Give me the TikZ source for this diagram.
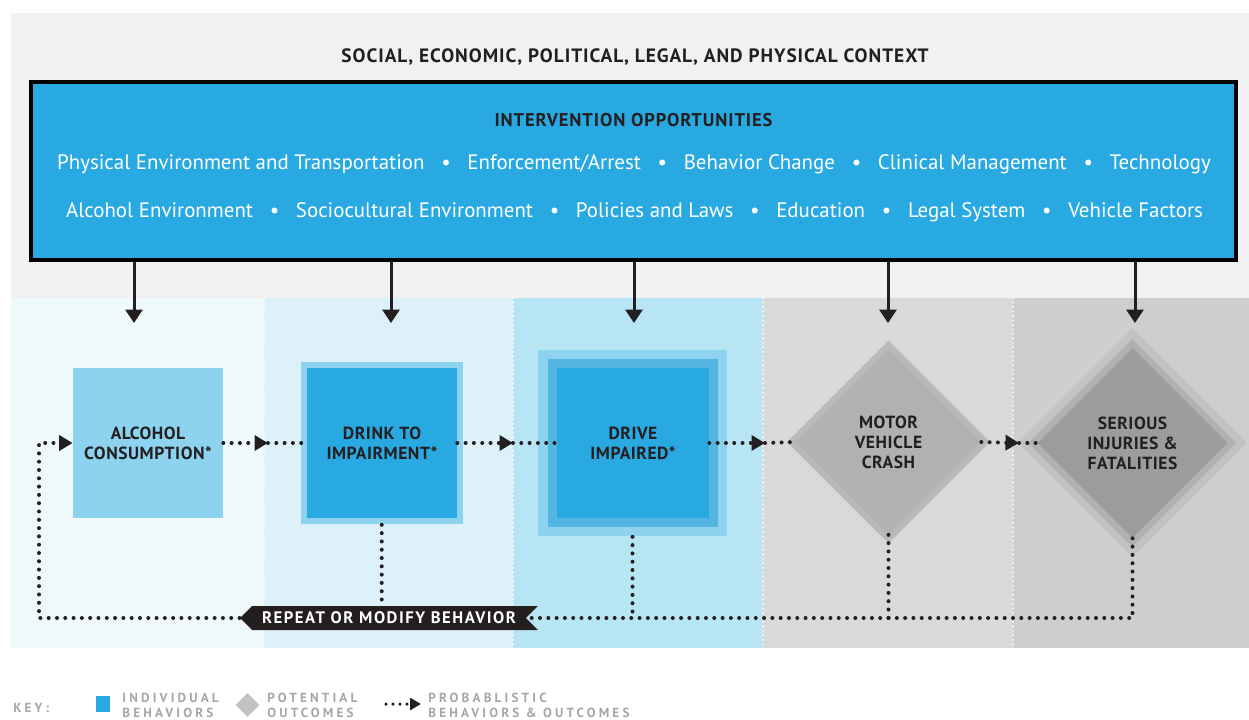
\documentclass[tikz,border=0pt]{standalone}
\usepackage{fontspec}
\setmainfont{PT Sans}
\newfontfamily\capsfont[LetterSpace=3]{PT Sans}
\newfontfamily\headfont[LetterSpace=5]{PT Sans}
\newfontfamily\bannerfont[LetterSpace=9]{PT Sans}
\newfontfamily\keyfont[LetterSpace=24]{PT Sans}
\usetikzlibrary{shapes.geometric, shapes.symbols, arrows.meta}

\definecolor{ctxgray}{HTML}{F1F1F1}
\definecolor{oppblue}{HTML}{29A9E1}
\definecolor{colA}{HTML}{EFF9FC}
\definecolor{colB}{HTML}{DDF1F9}
\definecolor{colC}{HTML}{B8E5F3}
\definecolor{colD}{HTML}{D9D9D9}
\definecolor{colE}{HTML}{CECECE}
\definecolor{lightblue}{HTML}{8DD2EF}
\definecolor{midblue}{HTML}{55B5E1}
\definecolor{crashrim}{HTML}{B9B9B9}
\definecolor{crashgray}{HTML}{B1B1B1}
\definecolor{injrimA}{HTML}{C2C2C2}
\definecolor{injrimB}{HTML}{B1B1B1}
\definecolor{injgray}{HTML}{9C9C9C}
\definecolor{inkdark}{HTML}{231F20}
\definecolor{keygray}{HTML}{A6A6A6}

\newcommand{\oppsep}{\hspace{0.8em}\textbullet\hspace{0.8em}}

\tikzset{
  titletext/.style={font=\headfont\bfseries\fontsize{11}{12}\selectfont, text=inkdark},
  oppbox/.style={draw=black, line width=0.07cm, fill=oppblue, minimum width=24.1cm, minimum height=3.56cm},
  opptext/.style={font=\fontsize{11.9}{13}\selectfont, text=white},
  ctxarrow/.style={line width=0.06cm, draw=inkdark, -{Triangle[length=0.27cm, width=0.34cm]}},
  sepline/.style={draw=white, line width=0.04cm, dash pattern=on 0pt off 0.09cm, line cap=round},
  behav/.style={rectangle, fill=oppblue, align=center, inner sep=0pt, text=inkdark,
    font=\capsfont\bfseries\fontsize{10}{11.3}\selectfont},
  rim/.style={rectangle, inner sep=0pt},
  outcome/.style={diamond, aspect=1, inner sep=0pt, align=center, text=inkdark,
    font=\capsfont\bfseries\fontsize{10}{11.3}\selectfont},
  rimdia/.style={diamond, aspect=1, inner sep=0pt},
  dotline/.style={draw=inkdark, line width=0.08cm, dash pattern=on 0pt off 0.166cm, line cap=round},
  dotarrow/.style={dotline, -{Triangle[length=0.27cm, width=0.3cm]}},
  banner/.style={signal, signal to=west, signal from=east, fill=inkdark, text=white,
    minimum height=0.48cm, minimum width=5.96cm, inner ysep=0pt,
    font=\bannerfont\bfseries\fontsize{9.5}{11}\selectfont},
  keytext/.style={font=\keyfont\bfseries\fontsize{7.5}{8.6}\selectfont, text=keygray, align=left, inner sep=0pt}
}

\begin{document}
\begin{tikzpicture}[x=0.02cm, y=-0.02cm]
  \useasboundingbox (0,0) rectangle (1249,720);

  % Context panel
  \fill[ctxgray] (11,13) rectangle (1249,298);
  \node[titletext] (ctxtitle) at (635,57) {SOCIAL, ECONOMIC, POLITICAL, LEGAL, AND PHYSICAL CONTEXT};

  % Columns
  \fill[colA] (11,298) rectangle (264,648);
  \fill[colB] (264,298) rectangle (513,648);
  \fill[colC] (513,298) rectangle (763,648);
  \fill[colD] (763,298) rectangle (1013,648);
  \fill[colE] (1013,298) rectangle (1249,648);
  \draw[sepline] (264,298) -- (264,648);
  \draw[sepline] (513,298) -- (513,648);
  \draw[sepline] (763,298) -- (763,648);
  \draw[sepline] (1013,298) -- (1013,648);

  % Intervention opportunities
  \node[oppbox] (opp) at (633.5,171) {};
  \node[titletext, font=\headfont\bfseries\fontsize{10.5}{12}\selectfont] (opphead) at (633.5,120) {INTERVENTION OPPORTUNITIES};
  \node[opptext] (opprow1) at (634,164) {Physical Environment and Transportation\oppsep Enforcement/Arrest\oppsep Behavior Change\oppsep Clinical Management\oppsep Technology};
  \node[opptext] (opprow2) at (634.5,212) {Alcohol Environment\oppsep Sociocultural Environment\oppsep Policies and Laws\oppsep Education\oppsep Legal System\oppsep Vehicle Factors};

  % Arrows into the chain
  \coordinate (d1) at (134,323);
  \coordinate (d2) at (391,323);
  \coordinate (d3) at (634,323);
  \coordinate (d4) at (888,323);
  \coordinate (d5) at (1135,323);
  \draw[ctxarrow] (opp.south -| d1) -- (d1);
  \draw[ctxarrow] (opp.south -| d2) -- (d2);
  \draw[ctxarrow] (opp.south -| d3) -- (d3);
  \draw[ctxarrow] (opp.south -| d4) -- (d4);
  \draw[ctxarrow] (opp.south -| d5) -- (d5);

  % Individual behaviors
  \node[behav, fill=lightblue, minimum width=3cm, minimum height=3.02cm] (alc) at (148,443) {ALCOHOL\\CONSUMPTION*};
  \node[rim, fill=lightblue, minimum width=3.25cm, minimum height=3.26cm] (drinkrim) at (381.75,443) {};
  \node[behav, minimum width=3cm, minimum height=3cm] (drink) at (382,443) {DRINK TO\\IMPAIRMENT*};
  \node[rim, fill=lightblue, minimum width=3.78cm, minimum height=3.74cm] (driverim) at (632.5,443) {};
  \node[rim, fill=midblue, minimum width=3.4cm, minimum height=3.38cm] (drivemid) at (633,443) {};
  \node[behav, minimum width=3.04cm, minimum height=3cm] (drive) at (633,443) {DRIVE\\IMPAIRED*};

  % Outcomes
  \node[rimdia, fill=crashrim, minimum width=4.06cm, minimum height=4.06cm] (crashrim) at (888.5,442) {};
  \node[outcome, fill=crashgray, minimum width=3.7cm, minimum height=3.7cm] (crash) at (888.5,442) {MOTOR\\VEHICLE\\CRASH};
  \node[rimdia, fill=injrimA, minimum width=4.58cm, minimum height=4.58cm] (injrimA) at (1132.5,443) {};
  \node[rimdia, fill=injrimB, minimum width=4.16cm, minimum height=4.16cm] (injrimB) at (1132.5,443) {};
  \node[outcome, fill=injgray, minimum width=3.8cm, minimum height=3.8cm] (inj) at (1132.5,443) {SERIOUS\\INJURIES \&\\FATALITIES};

  % Probabilistic chain
  \coordinate (m1) at (268,443);
  \coordinate (m2) at (513,443);
  \coordinate (m3) at (765,443);
  \coordinate (m4) at (1019,443);
  \draw[dotarrow] (alc.east) -- (m1);
  \draw[dotline] (m1) -- (drink.west);
  \draw[dotarrow] (drink.east) -- (m2);
  \draw[dotline] (m2) -- (drive.west);
  \draw[dotarrow] (drive.east) -- (m3);
  \draw[dotline] (m3) -- (crash.west);
  \draw[dotarrow] (crash.east) -- (m4);
  \draw[dotline] (m4) -- (inj.west);

  % Feedback loop
  \node[banner] (rep) at (389,618) {REPEAT OR MODIFY BEHAVIOR};
  \coordinate (loopc) at (39,618);
  \draw[dotline] (drinkrim.south) -- (drinkrim.south |- rep.north);
  \draw[dotline] (driverim.south) -- (driverim.south |- rep);
  \draw[dotline] (crash.south) -- (crash.south |- rep);
  \draw[dotline] (inj.south) |- (rep.east);
  \draw[dotarrow] (rep.west) -- (loopc) |- (alc.west);

  % Key
  \node[keytext, anchor=west] (keylbl) at (13,708) {KEY:};
  \node[rectangle, fill=oppblue, minimum width=0.28cm, minimum height=0.32cm, inner sep=0pt] (keybox) at (103,704) {};
  \node[keytext, anchor=west] (keyind) at (122,705) {INDIVIDUAL\\BEHAVIORS};
  \node[diamond, aspect=1, fill=injrimA, minimum width=0.48cm, minimum height=0.48cm, inner sep=0pt] (keydia) at (247.5,705) {};
  \node[keytext, anchor=west] (keypot) at (267,705) {POTENTIAL\\OUTCOMES};
  \coordinate (keyfrom) at (386,704);
  \coordinate (keyto) at (421,704);
  \draw[dotline, line width=0.07cm, dash pattern=on 0pt off 0.14cm, -{Triangle[length=0.22cm, width=0.24cm]}] (keyfrom) -- (keyto);
  \node[keytext, anchor=west] (keyprob) at (428,705) {PROBABLISTIC\\BEHAVIORS \& OUTCOMES};
\end{tikzpicture}
\end{document}
